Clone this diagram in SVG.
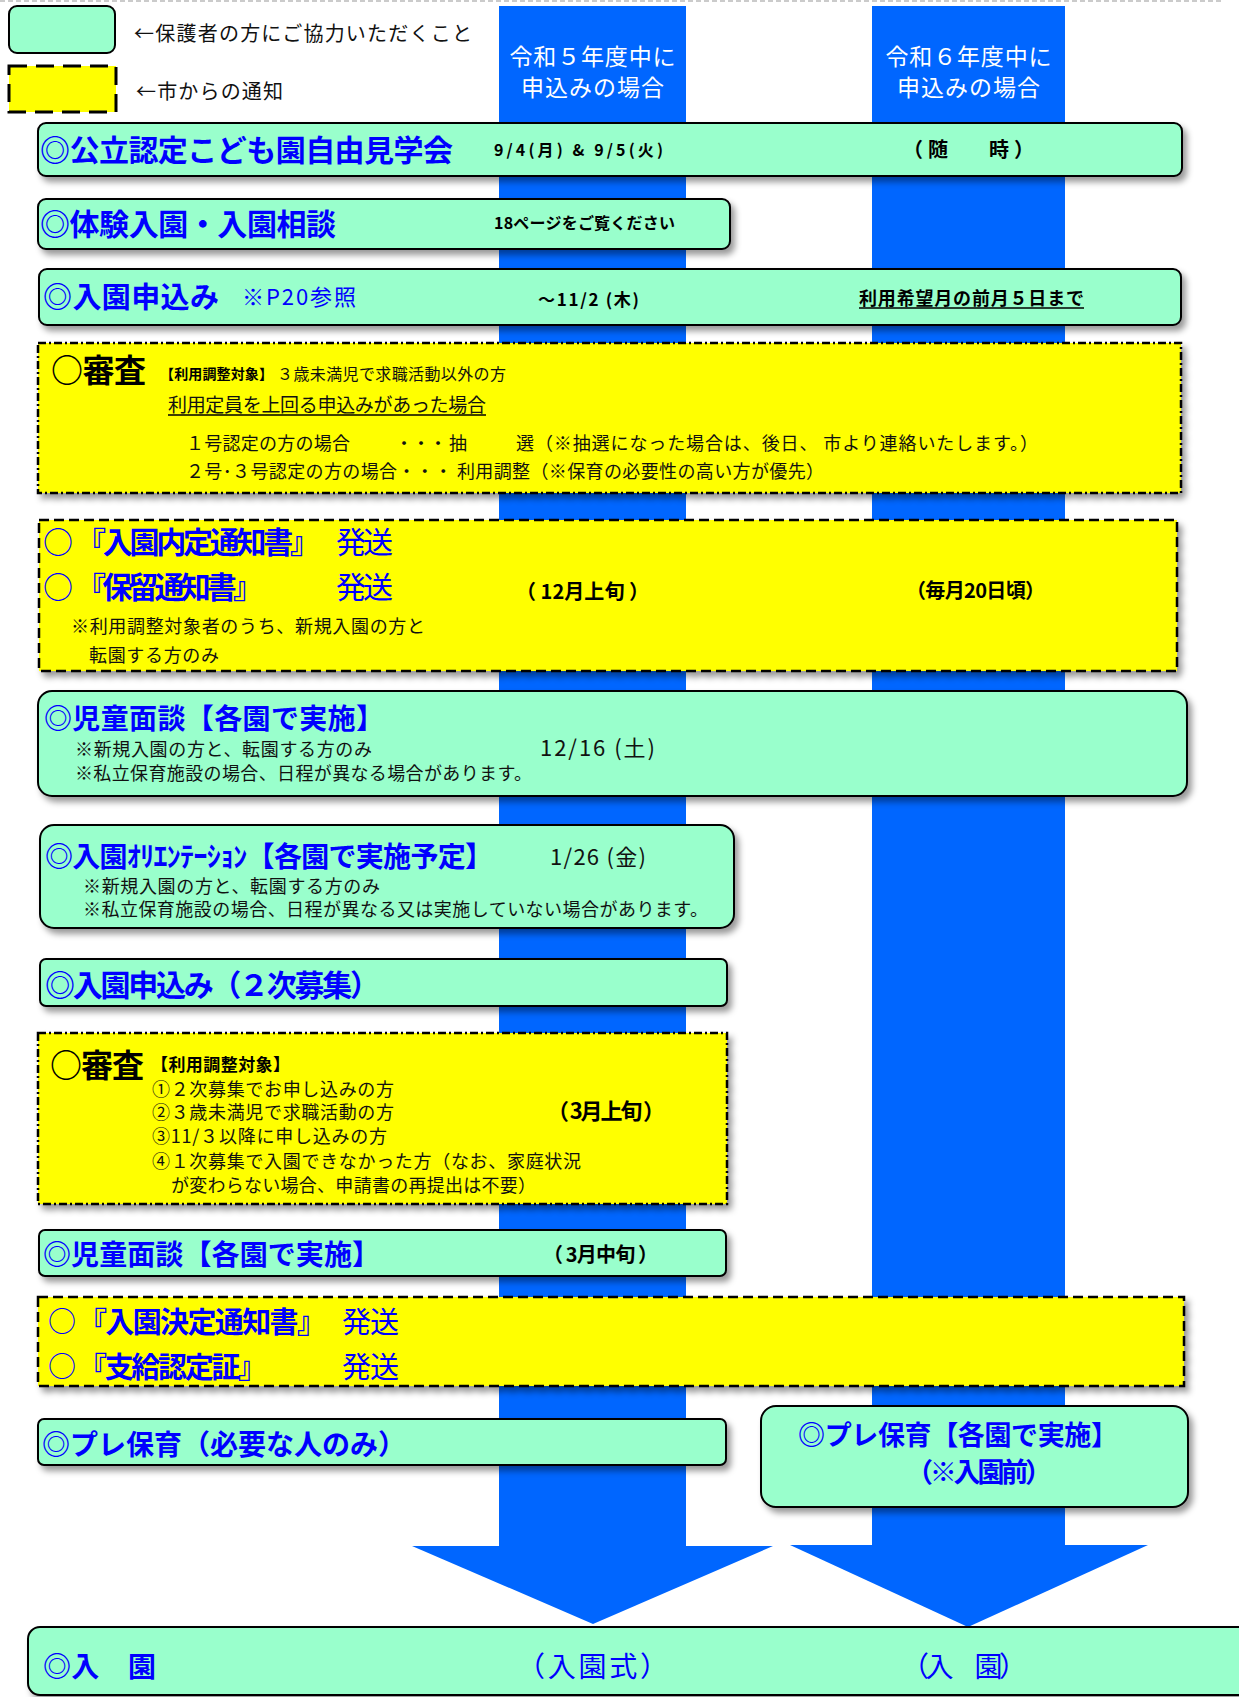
<svg xmlns="http://www.w3.org/2000/svg" width="1239" height="1697" viewBox="0 0 1239 1697">
<defs>
<filter id="sh" x="-5%" y="-20%" width="110%" height="150%">
<feDropShadow dx="4" dy="5" stdDeviation="3" flood-color="#000" flood-opacity="0.4"/>
</filter>
<style>
text{font-family:"Noto Sans CJK JP","Noto Sans CJK SC",sans-serif;dominant-baseline:central;}
.g{fill:#99FFCC;stroke:#000;stroke-width:2;filter:url(#sh);}
.yd{fill:#FFFF00;stroke:#000;stroke-width:2.5;stroke-dasharray:8 3 2 3;filter:url(#sh);}
.yl{fill:#FFFF00;stroke:#000;stroke-width:2.5;stroke-dasharray:10 5;filter:url(#sh);}
.col{fill:#0066FF;}
.tb{fill:#0000FF;font-weight:bold;}
.tn{fill:#0000FF;font-weight:normal;}
.kb{fill:#000;font-weight:bold;}
.kn{fill:#111;font-weight:normal;}
.wh{fill:#FFF;font-size:23px;text-anchor:middle;}
.ul{stroke:#000;stroke-width:1.5;}
</style>
</defs>
<rect width="1239" height="1697" fill="#FFFFFF"/>
<line x1="0" y1="1" x2="1222" y2="1" stroke="#BBBBBB" stroke-width="1.5" stroke-dasharray="5 3"/>

<g id="legend">
<rect x="9" y="6" width="106" height="47" rx="8" fill="#99FFCC" stroke="#000" stroke-width="2"/>
<rect x="9" y="66" width="107" height="46" fill="#FFFF00" stroke="#000" stroke-width="3" stroke-dasharray="18 9"/>
<text class="kn" x="134" y="32" font-size="20" textLength="338">←保護者の方にご協力いただくこと</text>
<text class="kn" x="136" y="90" font-size="20" textLength="147">←市からの通知</text>
</g>

<g id="connectors">
<rect class="col" x="499" y="6" width="187" height="1541"/>
<polygon class="col" points="412,1546 773,1546 593,1624"/>
<rect class="col" x="872" y="6" width="193" height="1540"/>
<polygon class="col" points="790,1545 1148,1545 968,1627"/>
</g>

<g id="col1-header">
<text class="wh" x="592.5" y="55" textLength="166">令和５年度中に</text>
<text class="wh" x="592.5" y="86" textLength="143">申込みの場合</text>
</g>
<g id="col2-header">
<text class="wh" x="968.5" y="55" textLength="166">令和６年度中に</text>
<text class="wh" x="968.5" y="86" textLength="143">申込みの場合</text>
</g>

<g id="n-kengaku">
<rect class="g" x="38" y="123" width="1144" height="53" rx="8"/>
<text class="tb" x="40" y="148" font-size="30" textLength="413">◎公立認定こども園自由見学会</text>
<text class="kb" x="494" y="149" font-size="16" textLength="169">9/4(月) &amp; 9/5(火)</text>
<text class="kb" x="903" y="148" font-size="20" textLength="131">（ 随　　時 ）</text>
</g>

<g id="n-taiken">
<rect class="g" x="38" y="199" width="692" height="50" rx="8"/>
<text class="tb" x="40" y="222" font-size="30" textLength="296">◎体験入園・入園相談</text>
<text class="kb" x="494" y="222" font-size="16" textLength="181">18ページをご覧ください</text>
</g>

<g id="n-moushikomi">
<rect class="g" x="39" y="269" width="1142" height="56" rx="8"/>
<text class="tb" x="43" y="295" font-size="29" textLength="176">◎入園申込み</text>
<text class="tn" x="242" y="295" font-size="22" textLength="114">※P20参照</text>
<text class="kb" x="538" y="298" font-size="17" textLength="101">～11/2 (木)</text>
<text class="kb" x="859" y="297" font-size="18" textLength="225">利用希望月の前月５日まで</text>
<line class="ul" x1="859" y1="308" x2="1084" y2="308"/>
</g>

<g id="n-shinsa1">
<rect class="yd" x="38" y="343" width="1143" height="150"/>
<text class="kb" x="51" y="368" font-size="32" textLength="95">○審査</text>
<text class="kb" x="160" y="373" font-size="14" textLength="113">【利用調整対象】</text>
<text class="kn" x="277" y="373" font-size="16" textLength="229">３歳未満児で求職活動以外の方</text>
<text class="kn" x="168" y="403" font-size="19" textLength="318">利用定員を上回る申込みがあった場合</text>
<line class="ul" x1="168" y1="415" x2="486" y2="415"/>
<text class="kn" x="186" y="442" font-size="18" textLength="164">１号認定の方の場合</text>
<text class="kn" x="395" y="442" font-size="18" textLength="72">・・・ 抽</text>
<text class="kn" x="516" y="442" font-size="18" textLength="522">選（※抽選になった場合は、後日、 市より連絡いたします。）</text>
<text class="kn" x="186" y="470" font-size="18" textLength="638">２号･３号認定の方の場合・・・ 利用調整（※保育の必要性の高い方が優先）</text>
</g>

<g id="n-naitei">
<rect class="yl" x="39" y="520" width="1138" height="151"/>
<text class="tn" x="43" y="540" font-size="30">○</text>
<text class="tb" x="76" y="540" font-size="30" textLength="244">『入園内定通知書』</text>
<text class="tn" x="336" y="540" font-size="30" textLength="57">発送</text>
<text class="tn" x="43" y="585" font-size="30">○</text>
<text class="tb" x="76" y="585" font-size="30" textLength="187">『保留通知書』</text>
<text class="tn" x="336" y="585" font-size="30" textLength="57">発送</text>
<text class="kb" x="516" y="590" font-size="20" textLength="133">（ 12月上旬 ）</text>
<text class="kb" x="906" y="589" font-size="20" textLength="139">（毎月20日頃）</text>
<text class="kn" x="71" y="625" font-size="18" textLength="354">※利用調整対象者のうち、新規入園の方と</text>
<text class="kn" x="89" y="654" font-size="18" textLength="130">転園する方のみ</text>
</g>

<g id="n-mendan1">
<rect class="g" x="38" y="691" width="1149" height="105" rx="14"/>
<text class="tb" x="44" y="717" font-size="28" textLength="340">◎児童面談【各園で実施】</text>
<text class="kn" x="75" y="748" font-size="18" textLength="297">※新規入園の方と、転園する方のみ</text>
<text class="kn" x="75" y="772" font-size="18" textLength="457">※私立保育施設の場合、日程が異なる場合があります。</text>
<text class="kn" x="540" y="746" font-size="22" textLength="115">12/16 (土)</text>
</g>

<g id="n-orientation">
<rect class="g" x="40" y="825" width="694" height="103" rx="14"/>
<text class="tb" x="45" y="855" font-size="28" textLength="448">◎入園ｵﾘｴﾝﾃｰｼｮﾝ【各園で実施予定】</text>
<text class="kn" x="550" y="855" font-size="22" textLength="96">1/26 (金)</text>
<text class="kn" x="83" y="885" font-size="18" textLength="297">※新規入園の方と、転園する方のみ</text>
<text class="kn" x="83" y="908" font-size="18" textLength="625">※私立保育施設の場合、日程が異なる又は実施していない場合があります。</text>
</g>

<g id="n-niji">
<rect class="g" x="40" y="959" width="687" height="47" rx="6"/>
<text class="tb" x="45" y="983" font-size="30" textLength="335">◎入園申込み（２次募集）</text>
</g>

<g id="n-shinsa2">
<rect class="yd" x="38" y="1033" width="689" height="171"/>
<text class="kb" x="50" y="1063" font-size="32" textLength="94">○審査</text>
<text class="kb" x="151" y="1063" font-size="17" textLength="139">【利用調整対象】</text>
<text class="kn" x="152" y="1088" font-size="18" textLength="242">①２次募集でお申し込みの方</text>
<text class="kn" x="152" y="1111" font-size="18" textLength="242">②３歳未満児で求職活動の方</text>
<text class="kn" x="152" y="1135" font-size="18" textLength="235">③11/３以降に申し込みの方</text>
<text class="kn" x="152" y="1160" font-size="18" textLength="429">④１次募集で入園できなかった方（なお、家庭状況</text>
<text class="kn" x="171" y="1184" font-size="18" textLength="365">が変わらない場合、申請書の再提出は不要）</text>
<text class="kb" x="547" y="1109" font-size="22" textLength="118">（ 3月上旬 ）</text>
</g>

<g id="n-mendan2">
<rect class="g" x="39" y="1230" width="687" height="46" rx="6"/>
<text class="tb" x="43" y="1253" font-size="28" textLength="337">◎児童面談【各園で実施】</text>
<text class="kb" x="543" y="1253" font-size="20" textLength="115">（ 3月中旬 ）</text>
</g>

<g id="n-kettei">
<rect class="yl" x="38" y="1297" width="1146" height="89"/>
<text class="tn" x="48" y="1320" font-size="28">○</text>
<text class="tb" x="78" y="1320" font-size="29" textLength="248">『入園決定通知書』</text>
<text class="tn" x="342" y="1320" font-size="29" textLength="57">発送</text>
<text class="tn" x="48" y="1365" font-size="28">○</text>
<text class="tb" x="78" y="1365" font-size="29" textLength="189">『支給認定証』</text>
<text class="tn" x="342" y="1365" font-size="29" textLength="57">発送</text>
</g>

<g id="n-pre1">
<rect class="g" x="38" y="1419" width="688" height="46" rx="6"/>
<text class="tb" x="42" y="1443" font-size="28" textLength="364">◎プレ保育（必要な人のみ）</text>
</g>

<g id="n-pre2">
<rect class="g" x="761" y="1406" width="427" height="101" rx="15"/>
<text class="tb" x="798" y="1433" font-size="27" textLength="320">◎プレ保育【各園で実施】</text>
<text class="tb" x="906" y="1470" font-size="27" textLength="146">（※入園前）</text>
</g>

<g id="n-nyuen">
<rect class="g" x="28" y="1627" width="1232" height="68" rx="12"/>
<text class="tb" x="43" y="1665" font-size="28" textLength="113">◎入　園</text>
<text class="tn" x="517" y="1665" font-size="28" textLength="151">（入園式）</text>
<text class="tn" x="901" y="1665" font-size="28" textLength="126">（入　園）</text>
</g>
</svg>
